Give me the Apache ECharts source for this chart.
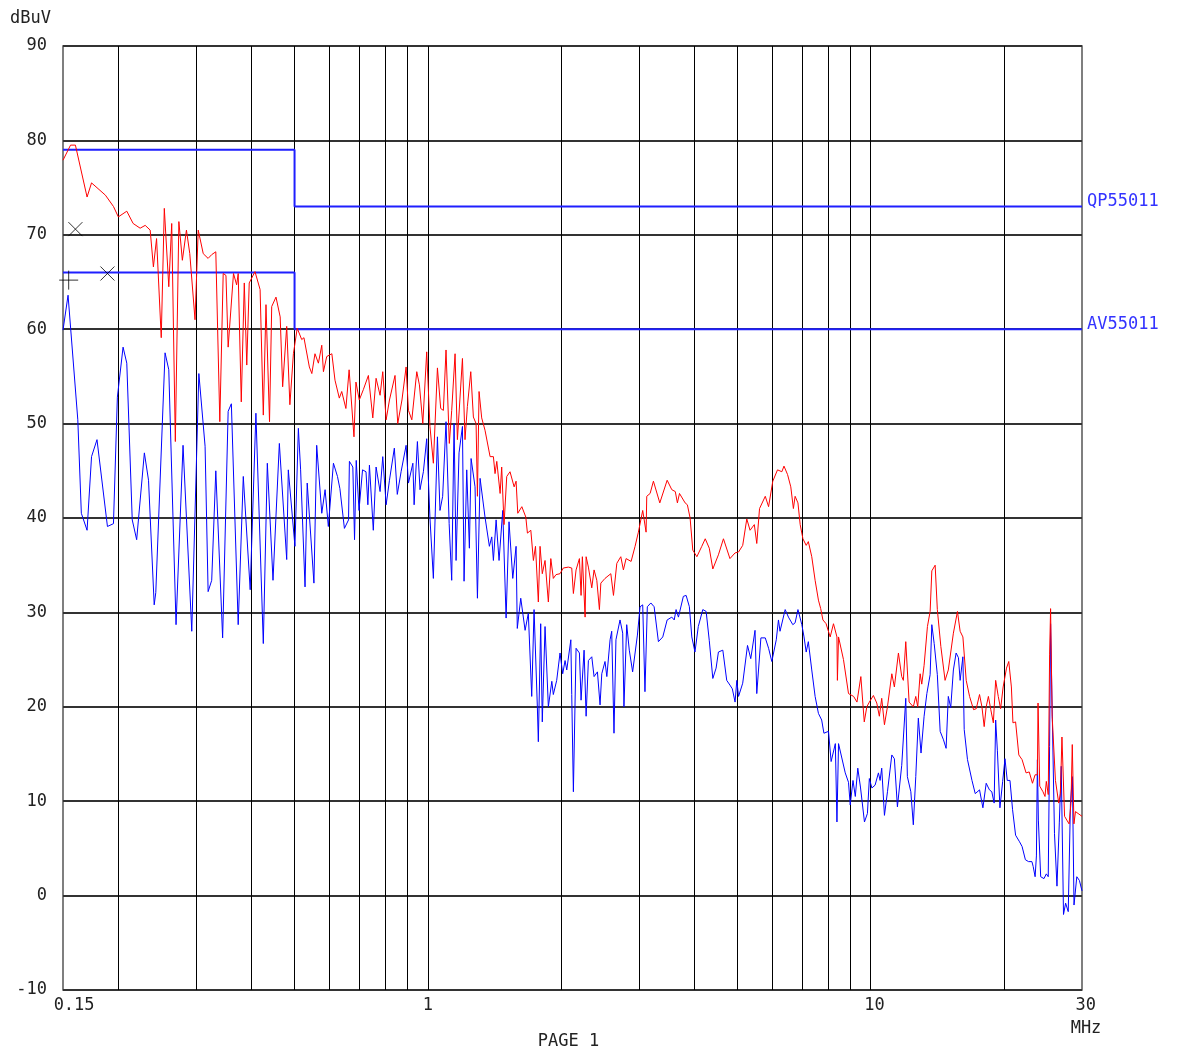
<!DOCTYPE html>
<html><head><meta charset="utf-8">
<script src="https://cdn.jsdelivr.net/npm/echarts@6/dist/echarts.min.js"></script>
<style>html,body{margin:0;padding:0;background:#fff}#c{width:1185px;height:1052px}</style>
</head><body><div id="c"></div>
<script>
// ---- DATA (frequency in MHz, level in dBuV) ----
const peakFreq = [0.150,0.156,0.160,0.170,0.174,0.187,0.195,0.200,0.209,0.216,0.224,0.230,0.236,0.240,0.244,0.250,0.254,0.260,0.264,0.269,0.274,0.279,0.285,0.290,0.298,0.303,0.311,0.319,0.325,0.332,0.339,0.345,0.350,0.354,0.364,0.370,0.373,0.379,0.385,0.390,0.395,0.407,0.418,0.425,0.431,0.439,0.444,0.454,0.464,0.470,0.480,0.488,0.497,0.507,0.519,0.525,0.540,0.547,0.556,0.566,0.576,0.581,0.591,0.607,0.617,0.631,0.639,0.653,0.664,0.681,0.688,0.700,0.715,0.734,0.751,0.764,0.780,0.791,0.805,0.819,0.843,0.855,0.874,0.893,0.904,0.920,0.944,0.957,0.974,0.994,1.011,1.029,1.051,1.069,1.084,1.099,1.118,1.132,1.152,1.166,1.197,1.213,1.228,1.250,1.267,1.285,1.294,1.305,1.323,1.346,1.382,1.406,1.418,1.431,1.456,1.468,1.486,1.507,1.533,1.566,1.582,1.596,1.630,1.664,1.678,1.708,1.731,1.750,1.776,1.792,1.813,1.839,1.871,1.895,1.920,1.947,1.988,2.022,2.076,2.113,2.131,2.161,2.199,2.218,2.233,2.265,2.277,2.304,2.345,2.373,2.407,2.440,2.458,2.512,2.589,2.625,2.671,2.727,2.764,2.803,2.877,2.937,2.988,3.056,3.110,3.121,3.176,3.231,3.34,3.47,3.555,3.62,3.66,3.70,3.81,3.855,3.91,3.965,4.05,4.155,4.23,4.32,4.40,4.53,4.65,4.81,4.94,5.03,5.14,5.25,5.34,5.46,5.53,5.61,5.78,5.88,6.01,6.16,6.30,6.37,6.49,6.60,6.69,6.75,6.85,6.93,7.03,7.15,7.23,7.36,7.49,7.62,7.71,7.80,7.93,8.10,8.24,8.39,8.41,8.46,8.68,8.91,9.15,9.31,9.50,9.67,9.80,9.93,10.14,10.32,10.46,10.59,10.74,10.91,11.16,11.31,11.55,11.75,11.85,12.00,12.21,12.48,12.64,12.77,12.93,13.04,13.20,13.43,13.62,13.74,13.98,14.14,14.40,14.72,14.97,15.10,15.37,15.70,15.92,16.15,16.43,16.72,17.07,17.31,17.61,17.83,18.04,18.23,18.44,18.67,18.92,19.15,19.41,19.65,19.91,20.26,20.50,20.78,20.95,21.24,21.60,21.97,22.43,22.80,23.19,23.51,23.79,23.87,24.08,24.49,24.75,24.92,25.17,25.35,25.48,25.69,26.13,26.58,26.81,27.03,27.40,27.72,28.05,28.33,28.52,28.77,29.00,29.39,30.0];
const peakLevel = [77.9,79.5,79.5,74.0,75.5,74.2,73.0,71.9,72.5,71.2,70.7,71.0,70.5,66.6,69.6,59.1,72.8,64.5,71.2,48.1,71.4,67.3,70.5,68.0,61.0,70.5,68.0,67.5,67.9,68.2,50.2,65.9,65.7,58.1,65.9,64.7,65.9,52.3,64.9,56.2,64.9,66.1,64.2,50.9,62.6,50.2,62.4,63.4,61.3,53.9,60.3,52.0,57.4,60.1,58.9,59.1,56.0,55.3,57.4,56.4,58.3,55.5,57.1,57.4,54.6,52.7,53.4,51.6,55.7,48.6,54.4,52.5,53.6,55.1,50.6,54.8,53.0,55.5,50.4,52.5,55.1,50.0,52.5,56.0,51.4,50.4,55.5,54.1,50.0,57.6,49.7,45.8,55.9,51.6,51.4,57.8,47.9,51.4,57.4,48.3,56.9,48.3,51.8,55.5,50.7,50.0,42.3,53.4,50.6,49.3,46.5,46.5,44.7,46.0,42.6,45.4,39.3,44.4,44.9,43.3,43.9,40.5,41.2,40.1,38.4,38.7,35.5,37.0,31.1,37.0,34.1,35.5,31.1,35.7,33.6,34.0,34.1,34.7,34.8,34.7,32.0,34.5,35.7,31.8,35.9,29.5,35.9,34.8,32.6,34.5,33.4,30.3,33.1,33.6,34.1,31.8,35.2,35.9,34.5,35.7,35.4,37.0,38.5,40.8,38.5,42.3,42.6,43.9,41.6,44.0,43.0,42.8,41.6,42.6,41.6,41.4,40.0,36.6,35.9,37.0,37.8,36.8,34.6,36.1,37.8,35.7,36.3,36.4,37.1,39.9,38.7,39.3,37.3,41.0,42.3,41.2,43.9,45.1,44.9,45.5,44.6,43.3,41.0,42.3,41.6,39.3,37.8,37.1,37.5,35.9,33.4,31.3,30.4,29.2,28.8,27.4,28.8,27.4,22.8,27.4,25.0,21.4,21.1,20.5,23.2,18.4,20.0,20.5,21.2,20.4,19.0,20.9,18.1,20.0,23.5,22.1,25.7,23.2,22.8,26.9,20.5,20.0,21.1,20.0,23.5,22.4,24.4,28.5,30.1,34.4,35.0,30.3,26.4,22.8,23.9,23.9,27.8,30.1,28.0,27.4,22.8,21.1,19.7,19.8,21.3,20.0,17.9,20.0,21.1,19.7,18.3,22.8,21.1,19.8,22.1,24.1,24.8,22.1,18.3,18.4,14.9,14.4,13.0,13.1,11.9,12.8,12.8,20.4,11.6,11.0,10.5,12.1,10.7,25.5,30.4,19.0,12.2,9.8,10.8,16.8,8.4,8.0,7.6,9.8,16.0,7.6,8.9,8.7,8.4];

const avgFreq = [0.150,0.154,0.162,0.165,0.170,0.174,0.179,0.189,0.195,0.199,0.205,0.209,0.215,0.220,0.229,0.234,0.241,0.243,0.255,0.260,0.270,0.280,0.293,0.304,0.314,0.319,0.325,0.332,0.344,0.354,0.360,0.373,0.383,0.397,0.409,0.425,0.434,0.447,0.462,0.480,0.484,0.501,0.510,0.516,0.528,0.534,0.553,0.561,0.576,0.586,0.596,0.612,0.625,0.633,0.648,0.662,0.665,0.677,0.683,0.689,0.699,0.712,0.725,0.732,0.738,0.753,0.764,0.780,0.791,0.805,0.819,0.840,0.853,0.870,0.893,0.904,0.925,0.931,0.947,0.960,0.977,0.994,1.011,1.029,1.051,1.065,1.080,1.099,1.117,1.132,1.146,1.158,1.176,1.197,1.207,1.224,1.241,1.252,1.278,1.294,1.312,1.346,1.377,1.394,1.406,1.426,1.448,1.476,1.502,1.525,1.555,1.582,1.592,1.621,1.658,1.686,1.716,1.737,1.767,1.776,1.798,1.813,1.839,1.871,1.905,1.920,1.954,1.988,2.016,2.041,2.059,2.103,2.113,2.131,2.161,2.199,2.218,2.253,2.277,2.304,2.345,2.373,2.415,2.448,2.470,2.512,2.536,2.579,2.601,2.632,2.659,2.716,2.754,2.772,2.812,2.85,2.90,2.973,3.014,3.056,3.092,3.13,3.188,3.243,3.316,3.392,3.47,3.555,3.60,3.635,3.68,3.775,3.83,3.895,3.945,4.01,4.08,4.177,4.25,4.32,4.40,4.476,4.53,4.635,4.73,4.81,4.87,4.94,4.985,5.03,5.14,5.27,5.36,5.48,5.53,5.65,5.78,5.88,5.98,6.12,6.19,6.24,6.41,6.52,6.67,6.75,6.85,6.99,7.07,7.15,7.23,7.36,7.49,7.62,7.75,7.84,8.03,8.14,8.32,8.39,8.46,8.76,8.91,8.99,9.12,9.23,9.35,9.48,9.68,9.83,9.93,10.06,10.23,10.41,10.50,10.59,10.74,10.91,11.16,11.31,11.49,11.75,12.00,12.10,12.32,12.48,12.64,12.81,12.99,13.20,13.39,13.62,13.74,13.91,14.14,14.35,14.60,14.80,14.97,15.16,15.37,15.59,15.78,15.92,16.15,16.26,16.54,16.93,17.22,17.61,17.92,18.23,18.54,18.77,19.00,19.15,19.32,19.58,19.86,20.10,20.34,20.63,20.91,21.24,21.68,21.97,22.35,22.72,23.12,23.27,23.51,23.67,23.79,23.91,24.20,24.62,24.92,25.17,25.35,25.48,25.69,26.00,26.34,26.66,26.93,27.25,27.55,27.93,28.25,28.54,28.78,29.20,29.60,30.0];
const avgLevel = [59.9,63.6,50.4,40.5,38.7,46.5,48.3,39.1,39.4,52.8,58.1,56.4,39.8,37.7,46.9,44.0,30.8,32.1,57.5,55.7,28.7,47.7,28.0,55.3,47.6,32.2,33.4,45.0,27.3,51.3,52.1,28.7,44.4,32.4,51.1,26.7,45.8,33.4,47.9,35.6,45.1,37.0,49.5,45.1,32.7,43.7,33.1,47.7,40.5,43.0,39.1,45.8,44.4,43.1,38.9,39.8,46.0,45.4,37.7,46.1,40.8,45.1,44.9,41.4,45.6,38.7,45.4,42.8,46.5,41.4,44.0,47.4,42.5,44.9,47.7,43.7,45.8,41.4,48.1,43.0,44.9,48.4,40.0,33.6,48.6,40.8,42.3,50.2,39.4,33.4,50.0,35.5,46.9,49.7,33.3,45.1,36.8,46.3,43.3,31.5,44.2,40.1,37.0,38.0,35.5,39.8,35.5,40.8,29.4,39.6,33.6,37.0,28.3,31.5,28.1,29.9,21.1,30.3,20.0,16.3,28.8,18.4,28.5,20.0,22.7,21.3,22.8,25.7,23.5,24.9,23.9,27.1,21.3,11.0,26.2,25.7,20.7,26.0,19.0,24.9,25.3,23.2,23.7,20.2,23.5,24.8,23.2,27.1,28.0,17.2,27.1,29.2,27.8,20.0,28.7,26.0,23.7,27.6,30.6,30.8,21.6,30.6,31.0,30.6,26.9,27.4,29.2,29.5,29.2,30.3,29.5,31.7,31.8,30.6,27.4,25.8,28.5,30.3,30.1,27.0,23.0,24.1,25.8,26.0,22.8,22.3,21.9,20.5,22.8,21.1,22.5,26.5,25.1,28.1,21.4,27.3,27.3,26.2,24.8,27.1,29.2,28.0,30.3,29.5,28.7,28.9,30.3,28.7,27.4,25.8,26.9,23.9,21.1,19.3,18.6,17.2,17.4,14.2,16.1,7.8,16.1,13.0,12.0,9.6,12.2,10.5,13.5,11.5,7.8,8.7,12.4,11.4,11.7,13.0,12.2,13.5,8.5,11.0,14.9,14.5,9.4,13.8,20.9,12.6,11.0,7.5,12.6,18.8,15.1,19.0,21.4,23.4,28.7,26.7,23.4,17.4,16.5,15.6,21.1,19.9,23.9,25.7,25.2,22.8,25.3,17.6,14.4,12.2,10.8,11.2,9.3,11.9,11.2,11.0,9.8,18.6,15.4,9.3,12.1,14.5,12.2,12.2,9.1,6.4,5.7,5.2,3.8,3.6,3.6,3.1,2.0,4.2,14.4,8.0,2.0,1.8,2.3,2.0,15.8,28.8,19.7,6.6,1.0,7.7,13.7,-2.0,-0.8,-1.7,9.8,12.6,-1.0,2.0,1.6,0.5];

const qpLimitFreq = [0.15, 0.5, 0.5, 30];
const qpLimitLevel = [79, 79, 73, 73];
const avLimitFreq = [0.15, 0.5, 0.5, 30];
const avLimitLevel = [66, 66, 60, 60];
const qpLimitName = 'QP55011';
const avLimitName = 'AV55011';

const crossFreq = [0.160, 0.189];
const crossLevel = [70.6, 65.9];
const plusFreq = [0.1545];
const plusLevel = [65.2];

const gridFreqs = [0.2,0.3,0.4,0.5,0.6,0.7,0.8,0.9,1,2,3,4,5,6,7,8,9,10,20];
const xTickFreqs = [0.15, 1, 10, 30];
const xTickLabels = ['0.15', '1', '10', '30'];
const yMin = -10, yMax = 90, yStep = 10;
const yUnit = 'dBuV';
const xUnit = 'MHz';
const pageLabel = 'PAGE 1';

// ---- CHART ----
const FONT = 'DejaVu Sans Mono';
const TXT = '#222';
const zip = (a, b) => a.map((v, i) => [v, b[i]]);
const chart = echarts.init(document.getElementById('c'), null, {renderer: 'canvas'});

chart.setOption({
  animation: false,
  grid: {left: 63, right: 103, top: 46, bottom: 62, show: true, borderColor: '#555', borderWidth: 1.5, backgroundColor: 'transparent'},
  xAxis: {type: 'log', logBase: 10, min: 0.15, max: 30,
    axisLine: {show: false}, axisTick: {show: false}, axisLabel: {show: false}, splitLine: {show: false}},
  yAxis: {type: 'value', min: yMin, max: yMax, interval: yStep,
    axisLine: {show: false}, axisTick: {show: false},
    axisLabel: {fontFamily: FONT, fontSize: 17, color: TXT, margin: 16},
    splitLine: {show: true, lineStyle: {color: '#333', width: 2}}},
  series: [
    {type: 'line', name: 'grid', data: [], silent: true, z: 1,
      markLine: {silent: true, symbol: 'none', animation: false, label: {show: false}, z: 1,
        lineStyle: {color: '#000', width: 1, type: 'solid'},
        data: gridFreqs.map(f => ({xAxis: f}))}},
    {type: 'line', name: avLimitName, data: zip(avLimitFreq, avLimitLevel), showSymbol: false, silent: true,
      lineStyle: {color: '#1f1fff', width: 2}, z: 3},
    {type: 'line', name: qpLimitName, data: zip(qpLimitFreq, qpLimitLevel), showSymbol: false, silent: true,
      lineStyle: {color: '#1f1fff', width: 2}, z: 3},
    {type: 'line', name: 'AV', data: zip(avgFreq, avgLevel), showSymbol: false, silent: true,
      lineStyle: {color: '#0000ff', width: 1}, z: 4},
    {type: 'line', name: 'PK', data: zip(peakFreq, peakLevel), showSymbol: false, silent: true,
      lineStyle: {color: '#ff0000', width: 1}, z: 5},
    {type: 'scatter', data: zip(crossFreq, crossLevel), silent: true, z: 6,
      symbol: 'path://M0,0L10,10M10,0L0,10', symbolSize: 14,
      itemStyle: {color: 'rgba(0,0,0,0)', borderColor: '#000', borderWidth: 1}},
    {type: 'scatter', data: zip(plusFreq, plusLevel), silent: true, z: 6,
      symbol: 'path://M5,0L5,10M0,5L10,5', symbolSize: 19,
      itemStyle: {color: 'rgba(0,0,0,0)', borderColor: '#000', borderWidth: 1}}
  ]
});

const px = f => chart.convertToPixel({xAxisIndex: 0}, f);
const py = v => chart.convertToPixel({yAxisIndex: 0}, v);
const txt = (x, y, text, align, color) => ({type: 'text', x: x, y: y, silent: true,
  style: {text: text, fontFamily: FONT, fontSize: 17, fill: color || TXT, align: align, verticalAlign: 'middle'}});
const yb = py(yMin);
const g = [];
xTickFreqs.forEach((f, i) => g.push(txt(px(f) + (xTickLabels[i].length - 1) * 3.7, yb + 16, xTickLabels[i], 'center')));
g.push(txt(px(30) + 4, yb + 39, xUnit, 'center'));
g.push(txt((px(0.15) + px(30)) / 2 - 4, yb + 52, pageLabel, 'center'));
g.push(txt(10, 19, yUnit, 'left'));
g.push(txt(px(30) + 5, py(qpLimitLevel[3]) - 5, qpLimitName, 'left', '#3333ff'));
g.push(txt(px(30) + 5, py(avLimitLevel[3]) - 5, avLimitName, 'left', '#3333ff'));
chart.setOption({graphic: g});
</script></body></html>
